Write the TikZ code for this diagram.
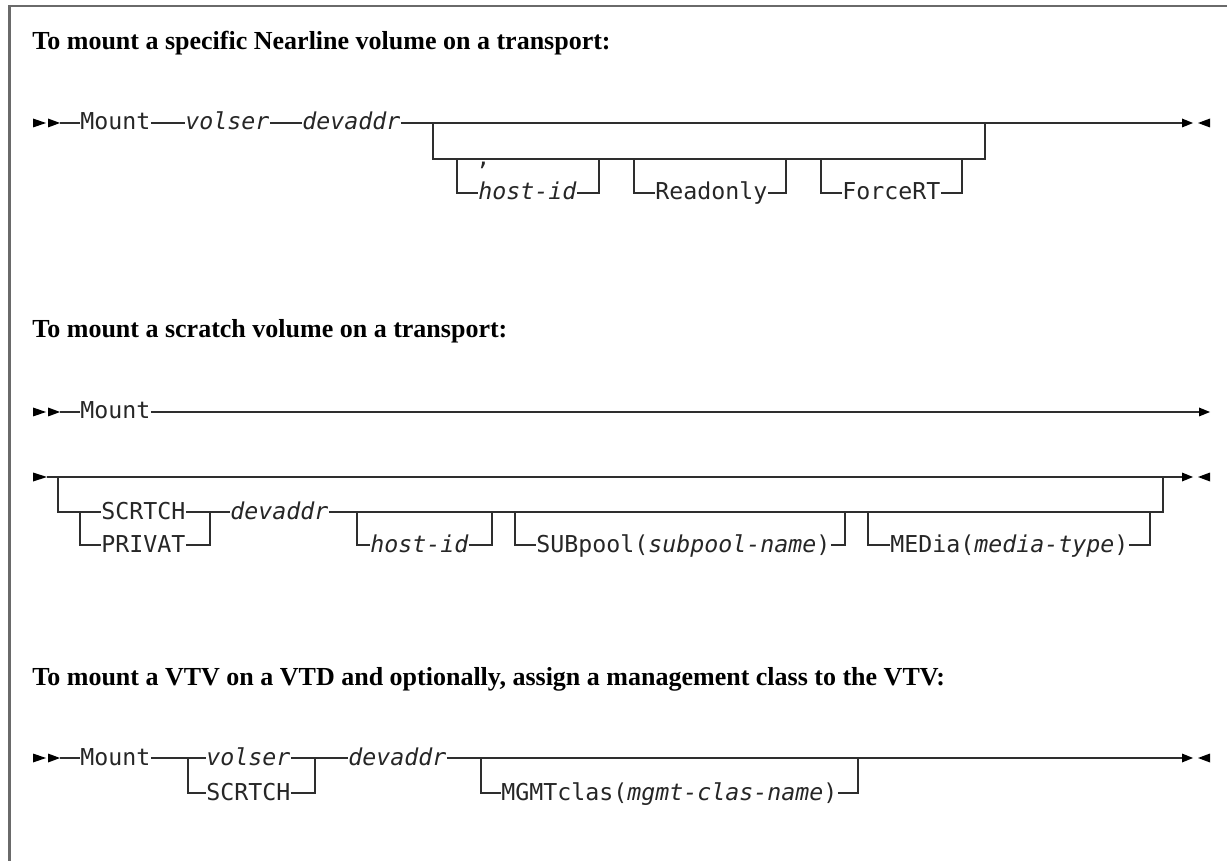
\documentclass[tikz,border=0pt]{standalone}
\usepackage{fontspec}
\setmainfont{Liberation Serif}
\newfontfamily\monofont{DejaVu Sans Mono}
\definecolor{framegray}{HTML}{6A6A6A}
\definecolor{railcol}{HTML}{2E2E2E}
\begin{document}
\begin{tikzpicture}[x=0.5pt,y=-0.5pt,
  kw/.style={font=\monofont\fontsize{11.63}{14}\selectfont, inner sep=0pt, anchor=base west, text=black!85},
  var/.style={kw, font=\monofont\itshape\fontsize{11.63}{14}\selectfont},
  ttl/.style={font=\bfseries\fontsize{13}{15}\selectfont, inner sep=0pt, anchor=base west},
  rail/.style={draw=railcol, line width=0.75pt},
  tipfill/.style={fill=black},
]
\useasboundingbox (0,0) rectangle (1227,861);
\draw[framegray, line width=1.1pt] (1227,6) -- (9.5,6) -- (9.5,861);

% ---------------- Diagram 1 ----------------
\node[ttl] (t1) at (32,50) {To mount a specific Nearline volume on a transport:};
\fill[tipfill] (33,118.5) -- (46,123) -- (33,127.5) -- cycle;
\fill[tipfill] (48,118.5) -- (60,123) -- (48,127.5) -- cycle;
\coordinate (a1s) at (60,123);
\node[kw]  (a1mount) at (80,130) {Mount};
\node[var] (a1vol)   at (185,130) {volser};
\node[var] (a1dev)   at (302,130) {devaddr};
\coordinate (a1j1) at (433,123);
\coordinate (a1j1d) at (433,159);
\coordinate (a1j2) at (985,123);
\coordinate (a1j2d) at (985,159);
\coordinate (a1e) at (1182,123);
\draw[rail] (a1s) -- (a1mount.west |- a1s);
\draw[rail] (a1mount.east |- a1s) -- (a1vol.west |- a1s);
\draw[rail] (a1vol.east |- a1s) -- (a1dev.west |- a1s);
\draw[rail] (a1dev.east |- a1s) -- (a1e);
\draw[rail] (a1j1) -- (a1j1d) -- (a1j2d) -- (a1j2);
\node[kw] (a1comma) at (476,166) {,};
\node[var] (a1host) at (478,200) {host-id};
\node[kw]  (a1ro)   at (655,200) {Readonly};
\node[kw]  (a1frt)  at (842,200) {ForceRT};
\coordinate (a1hl) at (457,159); \coordinate (a1hr) at (599,159);
\coordinate (a1rl) at (634,159); \coordinate (a1rr) at (786,159);
\coordinate (a1fl) at (821,159); \coordinate (a1fr) at (962,159);
\draw[rail] (a1hl) |- (a1host.west |- 0,193);
\draw[rail] (a1host.east |- 0,193) -| (a1hr);
\draw[rail] (a1rl) |- (a1ro.west |- 0,193);
\draw[rail] (a1ro.east |- 0,193) -| (a1rr);
\draw[rail] (a1fl) |- (a1frt.west |- 0,193);
\draw[rail] (a1frt.east |- 0,193) -| (a1fr);
\fill[tipfill] (1182,118.5) -- (1193,123) -- (1182,127.5) -- cycle;
\fill[tipfill] (1210,118.5) -- (1198,123) -- (1210,127.5) -- cycle;

% ---------------- Diagram 2 ----------------
\node[ttl] (t2) at (32,338) {To mount a scratch volume on a transport:};
\fill[tipfill] (33,407.5) -- (46,412) -- (33,416.5) -- cycle;
\fill[tipfill] (48,407.5) -- (60,412) -- (48,416.5) -- cycle;
\coordinate (b1s) at (60,412);
\node[kw] (b1mount) at (80,419) {Mount};
\coordinate (b1e) at (1199,412);
\draw[rail] (b1s) -- (b1mount.west |- b1s);
\draw[rail] (b1mount.east |- b1s) -- (b1e);
\fill[tipfill] (1199,407.5) -- (1210,412) -- (1199,416.5) -- cycle;

\fill[tipfill] (33,472.5) -- (47,477) -- (33,481.5) -- cycle;
\coordinate (b2s) at (47,477);
\coordinate (b2e) at (1182,477);
\draw[rail] (b2s) -- (b2e);
\fill[tipfill] (1182,472.5) -- (1193,477) -- (1182,481.5) -- cycle;
\fill[tipfill] (1210,472.5) -- (1198,477) -- (1210,481.5) -- cycle;
\coordinate (b2j1) at (58,477);
\coordinate (b2j2) at (1163,477);
\node[kw]  (b2scr) at (101,519) {SCRTCH};
\node[kw]  (b2pri) at (101,552) {PRIVAT};
\node[var] (b2dev) at (230,519) {devaddr};
\coordinate (b2c1) at (80,512);
\coordinate (b2c2) at (210,512);
\draw[rail] (b2j1) |- (b2c1) -- (b2scr.west |- b2c1);
\draw[rail] (b2c1) |- (b2pri.west |- 0,545);
\draw[rail] (b2scr.east |- b2c1) -- (b2c2) -- (b2dev.west |- b2c1);
\draw[rail] (b2pri.east |- 0,545) -| (b2c2);
\draw[rail] (b2dev.east |- b2c1) -| (b2j2);
\node[var] (b2host) at (370,552) {host-id};
\node[kw]  (b2sub) at (536,552) {SUBpool(\textit{subpool-name})};
\node[kw]  (b2med) at (890,552) {MEDia(\textit{media-type})};
\coordinate (b2hl) at (357,512); \coordinate (b2hr) at (492,512);
\coordinate (b2sl) at (515,512); \coordinate (b2sr) at (845,512);
\coordinate (b2ml) at (868,512); \coordinate (b2mr) at (1150,512);
\draw[rail] (b2hl) |- (b2host.west |- 0,545);
\draw[rail] (b2host.east |- 0,545) -| (b2hr);
\draw[rail] (b2sl) |- (b2sub.west |- 0,545);
\draw[rail] (b2sub.east |- 0,545) -| (b2sr);
\draw[rail] (b2ml) |- (b2med.west |- 0,545);
\draw[rail] (b2med.east |- 0,545) -| (b2mr);

% ---------------- Diagram 3 ----------------
\node[ttl] (t3) at (32,685) {To mount a VTV on a VTD and optionally, assign a management class to the VTV:};
\fill[tipfill] (33,753.5) -- (46,758) -- (33,762.5) -- cycle;
\fill[tipfill] (48,753.5) -- (60,758) -- (48,762.5) -- cycle;
\coordinate (c1s) at (60,758);
\node[kw]  (c1mount) at (80,765) {Mount};
\node[var] (c1vol)   at (206,765) {volser};
\node[kw]  (c1scr)   at (206,800) {SCRTCH};
\node[var] (c1dev)   at (348,765) {devaddr};
\coordinate (c1j1) at (188,758);
\coordinate (c1j2) at (315,758);
\coordinate (c1e) at (1182,758);
\draw[rail] (c1s) -- (c1mount.west |- c1s);
\draw[rail] (c1mount.east |- c1s) -- (c1j1) -- (c1vol.west |- c1s);
\draw[rail] (c1j1) |- (c1scr.west |- 0,793);
\draw[rail] (c1vol.east |- c1s) -- (c1j2) -- (c1dev.west |- c1s);
\draw[rail] (c1scr.east |- 0,793) -| (c1j2);
\draw[rail] (c1dev.east |- c1s) -- (c1e);
\node[kw] (c1mgmt) at (501,800) {MGMTclas(\textit{mgmt-clas-name})};
\coordinate (c1ml) at (481,758); \coordinate (c1mr) at (858,758);
\draw[rail] (c1ml) |- (c1mgmt.west |- 0,793);
\draw[rail] (c1mgmt.east |- 0,793) -| (c1mr);
\fill[tipfill] (1182,753.5) -- (1193,758) -- (1182,762.5) -- cycle;
\fill[tipfill] (1210,753.5) -- (1198,758) -- (1210,762.5) -- cycle;
\end{tikzpicture}
\end{document}
